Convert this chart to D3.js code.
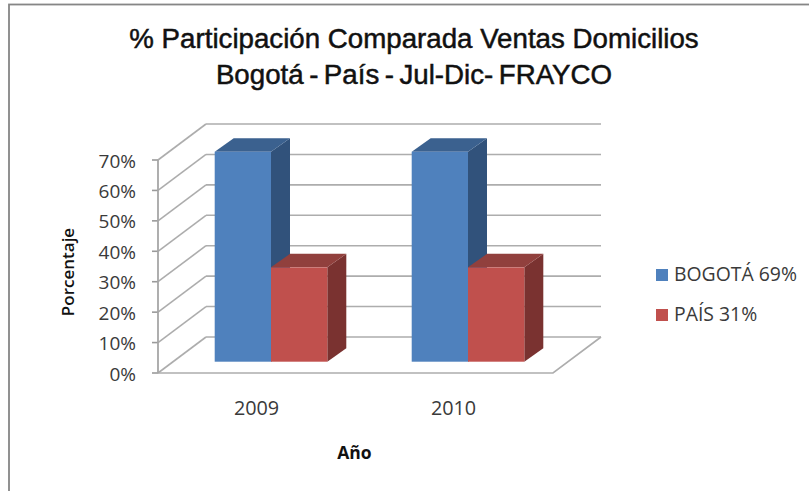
<!DOCTYPE html>
<html><head><meta charset="utf-8">
<script src="https://d3js.org/d3.v7.min.js"></script>
<style>html,body{margin:0;padding:0;background:#fff}svg{display:block}</style></head>
<body><div id="c"></div>
<script>
const years = ["2009", "2010"];
const seriesNames = ["BOGOTÁ 69%", "PAÍS 31%"];
const bogota = [69, 69];
const pais = [31, 31];
const yTicks = [0, 10, 20, 30, 40, 50, 60, 70];
const titleLines = ["% Participación Comparada Ventas Domicilios", "Bogotá - País - Jul-Dic- FRAYCO"];
const frontColors = ["#4f81bd", "#c0504d"];
const sideColors = ["#31527b", "#7a3230"];
const topColors = ["#3b618f", "#91403d"];

const W = 809, H = 491;
const svg = d3.select("#c").append("svg").attr("width", W).attr("height", H);
svg.append("rect").attr("width", W).attr("height", H).attr("fill", "#fff");
svg.append("rect").attr("x", 9).attr("y", 4.5).attr("width", 850).attr("height", 600)
  .attr("fill", "#fff").attr("stroke", "#868686").attr("stroke-width", 1.8);

const y = d3.scaleLinear().domain([0, 70]).range([373, 160]);
const x = d3.scaleBand().domain(years).range([158, 552]);
const wallDX = 48, wallDY = -36;
const gridCol = "#adadad";
const g = svg.append("g");

yTicks.forEach(t => {
  const yy = y(t);
  g.append("line").attr("x1", 158 + wallDX).attr("x2", 601).attr("y1", yy + wallDY).attr("y2", yy + wallDY)
    .attr("stroke", gridCol).attr("stroke-width", 1.6);
  g.append("line").attr("x1", 158).attr("x2", 158 + wallDX).attr("y1", yy).attr("y2", yy + wallDY)
    .attr("stroke", gridCol).attr("stroke-width", 1.6);
  g.append("line").attr("x1", 152).attr("x2", 158).attr("y1", yy).attr("y2", yy)
    .attr("stroke", "#9a9a9a").attr("stroke-width", 1.6);
});
g.append("path").attr("d", d3.line()([[158, y(0)], [553, y(0)], [601, y(0) + wallDY]]))
  .attr("fill", "none").attr("stroke", gridCol).attr("stroke-width", 1.6);
g.append("line").attr("x1", 158).attr("x2", 158).attr("y1", y(0)).attr("y2", y(70))
  .attr("stroke", "#a6a6a6").attr("stroke-width", 1.8);

const barW = 56.3, depthX = 19, depthY = -13.5, planeDX = 14.5, planeDY = -11.3;
const inner = d3.scaleBand().domain(seriesNames).range([-barW, barW]);
const h = v => y(0) - y(v);
years.forEach((yr, i) => {
  const cx = x(yr) + x.bandwidth() / 2 + planeDX;
  [bogota[i], pais[i]].forEach((v, s) => {
    const x0 = cx + inner(seriesNames[s]), x1 = x0 + inner.bandwidth();
    const yb = y(0) + planeDY, yt = yb - h(v);
    const poly = p => p.map(q => q.join(",")).join(" ");
    g.append("polygon").attr("points", poly([[x1, yt], [x1 + depthX, yt + depthY], [x1 + depthX, yb + depthY], [x1, yb]])).attr("fill", sideColors[s]);
    g.append("polygon").attr("points", poly([[x0, yt], [x0 + depthX, yt + depthY], [x1 + depthX, yt + depthY], [x1, yt]])).attr("fill", topColors[s]);
    g.append("rect").attr("x", x0).attr("y", yt).attr("width", x1 - x0).attr("height", yb - yt).attr("fill", frontColors[s]);
  });
});

const axFont = "'Open Sans', sans-serif";
yTicks.forEach(t => {
  svg.append("text").attr("x", 136).attr("y", y(t) + 7.5).attr("text-anchor", "end")
    .attr("font-family", axFont).attr("font-size", 19).attr("fill", "#3a3a3a").text(t + "%");
});
years.forEach(yr => {
  svg.append("text").attr("x", x(yr) + x.bandwidth() / 2).attr("y", 415).attr("text-anchor", "middle")
    .attr("font-family", axFont).attr("font-size", 19.8).attr("fill", "#3a3a3a").text(yr);
});
svg.append("text").attr("transform", "translate(74,272) rotate(-90)").attr("text-anchor", "middle")
  .attr("font-family", axFont).attr("font-size", 17).attr("font-weight", 600).attr("fill", "#111").text("Porcentaje");
svg.append("text").attr("x", 354.5).attr("y", 459).attr("text-anchor", "middle")
  .attr("font-family", axFont).attr("font-size", 17.5).attr("font-weight", 700).attr("fill", "#111").text("Año");
titleLines.forEach((t, i) => {
  svg.append("text").attr("x", 414).attr("y", 48 + i * 36).attr("text-anchor", "middle")
    .attr("font-family", "'Liberation Sans', sans-serif").attr("font-size", 27.7)
    .attr("word-spacing", i === 1 ? -2.2 : 0)
    .attr("fill", "#111").attr("stroke", "#111").attr("stroke-width", 0.5).text(t);
});
seriesNames.forEach((n, i) => {
  const ly = 281 + i * 40;
  svg.append("rect").attr("x", 656).attr("y", ly - 12).attr("width", 12).attr("height", 12).attr("fill", frontColors[i]);
  svg.append("text").attr("x", 674).attr("y", ly).attr("font-family", axFont).attr("font-size", 19.4).attr("fill", "#3a3a3a").text(n);
});
</script></body></html>
